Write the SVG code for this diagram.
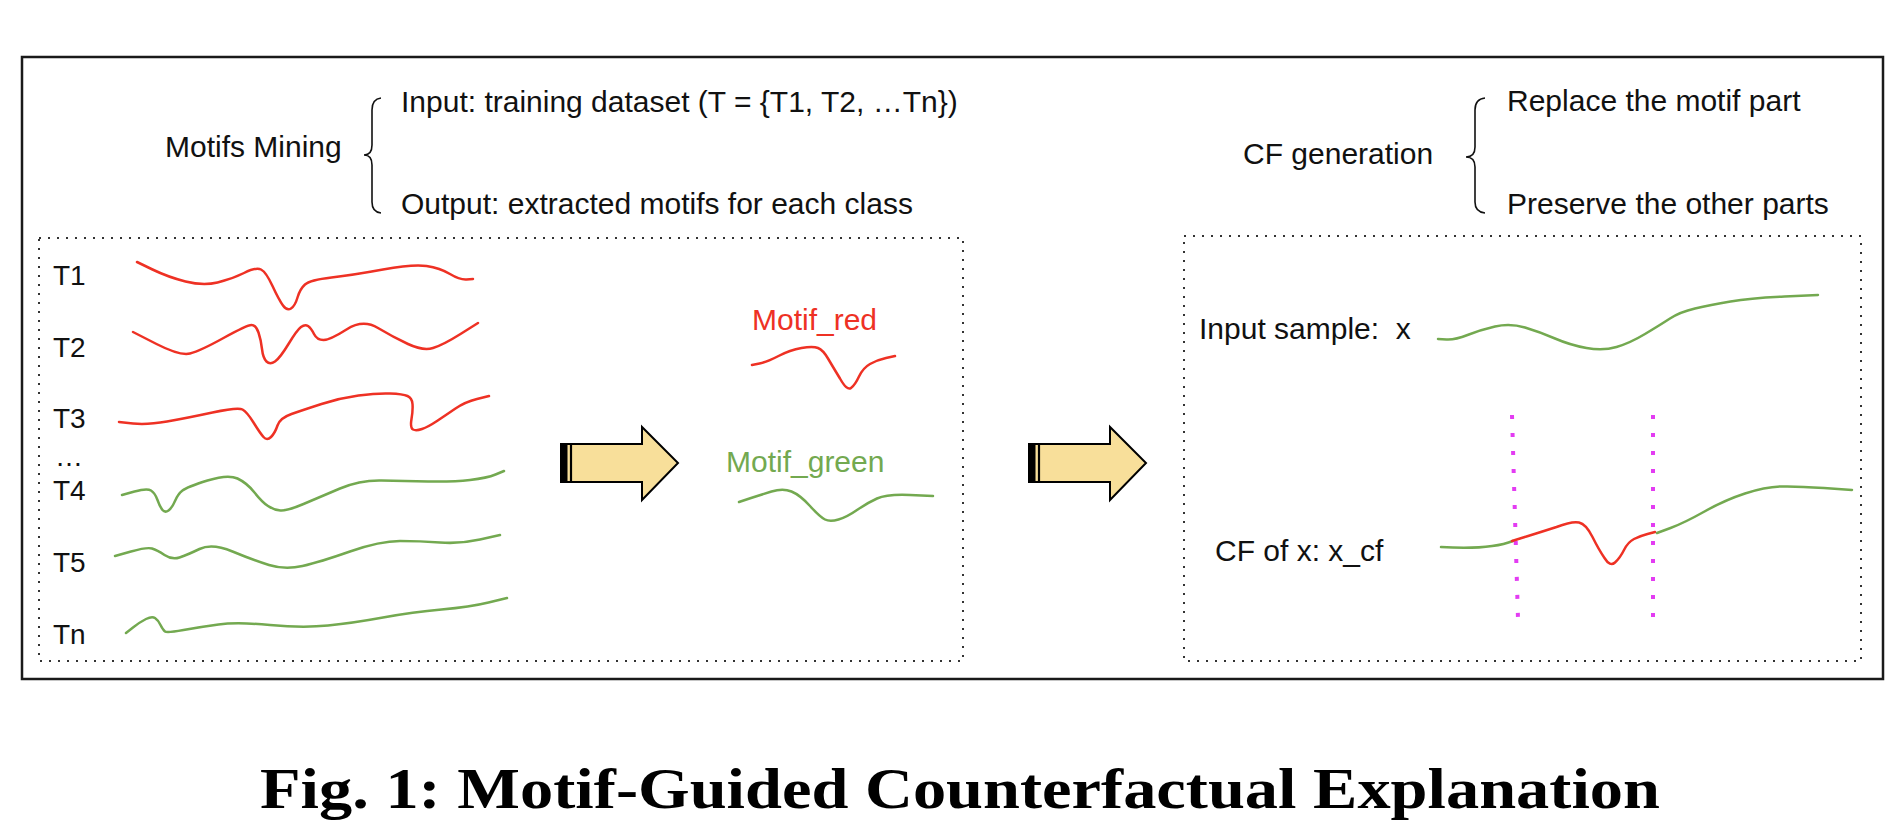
<svg xmlns="http://www.w3.org/2000/svg" width="1904" height="836" viewBox="0 0 1904 836">
<style>
.t{font-family:"Liberation Sans",Arial,sans-serif;font-size:30px;fill:#111}
.lbl{font-family:"Liberation Sans",Arial,sans-serif;font-size:28px;fill:#111}
.dot{fill:none;stroke:#333;stroke-width:2;stroke-dasharray:2 7}
.red{fill:none;stroke:#ee3124;stroke-width:2.5;stroke-linecap:round;stroke-linejoin:round}
.grn{fill:none;stroke:#73a950;stroke-width:2.5;stroke-linecap:round;stroke-linejoin:round}
.brace{fill:none;stroke:#111;stroke-width:1.6}
.mag{stroke:#e33cf2;stroke-width:4;stroke-dasharray:4 14}
.cap{font-family:"Liberation Serif","Times New Roman",serif;font-weight:bold;font-size:58px;fill:#000}
</style>
<defs>
<g id="arrowShape">
<polygon points="561,444 642,444 642,427 678,463 642,500 642,482 561,482" fill="#f8df9a" stroke="#000" stroke-width="2" stroke-linejoin="miter"/>
<rect x="560" y="443" width="7.5" height="40" fill="#000"/>
<line x1="571" y1="444" x2="571" y2="482" stroke="#000" stroke-width="2.2"/>
</g>
</defs>
<rect width="1904" height="836" fill="#fff"/>
<rect id="frame" x="22" y="57" width="1861" height="622" fill="none" stroke="#1a1a1a" stroke-width="2.5"/>

<g id="motifs-mining">
<text class="t" x="165" y="157">Motifs Mining</text>
<path class="brace" d="M381 98 Q372 99 372 110 L372 145 Q372 155 364 155 Q372 155 372 165 L372 202 Q372 212 381 213"/>
<text class="t" x="401" y="112">Input: training dataset (T = {T1, T2, …Tn})</text>
<text class="t" x="401" y="214">Output: extracted motifs for each class</text>
</g>

<g id="cf-generation">
<text class="t" x="1243" y="164">CF generation</text>
<path class="brace" d="M1485 98 Q1475 99 1475 110 L1475 147 Q1475 157 1466 157 Q1475 157 1475 167 L1475 202 Q1475 212 1485 213"/>
<text class="t" x="1507" y="111">Replace the motif part</text>
<text class="t" x="1507" y="214">Preserve the other parts</text>
</g>

<g id="dataset">
<rect class="dot" x="39" y="238" width="924" height="423"/>
<text class="lbl" x="53" y="285">T1</text>
<text class="lbl" x="53" y="357">T2</text>
<text class="lbl" x="53" y="428">T3</text>
<text class="lbl" x="55" y="466">…</text>
<text class="lbl" x="53" y="500">T4</text>
<text class="lbl" x="53" y="572">T5</text>
<text class="lbl" x="53" y="644">Tn</text>
<path class="red" d="M137,262 L152.5,269.5 Q168,277 185.5,281.5 Q203,286 217.5,282.5 Q232,279 244,273 Q256,267 261,269.5 Q266,272 272.5,286 Q279,300 283,305.5 Q287,311 291,308.5 Q295,306 297.5,297.5 Q300,289 305,284.5 Q310,280 331.5,277.5 Q353,275 383,269.5 Q413,264 426.5,266 Q440,268 450,274 Q460,280 466.5,279.5 L473,279"/>
<path class="red" d="M133,332 L156.5,344 Q180,356 190,353.5 Q200,351 223.5,338 Q247,325 251.5,325 Q256,325 258.5,332.5 Q261,340 262,349 Q263,358 266.5,361.5 Q270,365 275,361.5 Q280,358 288.5,344 Q297,330 301,327 Q305,324 308,326 Q311,328 314,334 Q317,340 323.5,340 Q330,340 346.5,329.5 Q363,319 378,328 Q393,337 408,344 Q423,351 433,348 Q443,345 460.5,334 L478,323"/>
<path class="red" d="M119,422 L133,423.5 Q147,425 167,421.5 Q187,418 212.5,412.5 Q238,407 242.5,409.5 Q247,412 253.5,422.5 Q260,433 263.5,437 Q267,441 271,437 Q275,433 277.5,425.5 Q280,418 291.5,414 Q303,410 321.5,404 Q340,398 358.5,395.5 Q377,393 390,393.5 Q403,394 407.5,396 Q412,398 412.5,404 Q413,410 411.5,419 Q410,428 413,429.5 Q416,431 422,429 Q428,427 437,421 Q446,415 455.5,408.5 Q465,402 477,399 L489,396"/>
<path class="grn" d="M122,495 L134.5,491.5 Q147,488 151,490.5 Q155,493 157.5,500 Q160,507 162.5,510 Q165,513 168.5,510.5 Q172,508 175,501 Q178,494 182.5,490.5 Q187,487 207.5,480.5 Q228,474 237.5,478.5 Q247,483 254.5,492.5 Q262,502 268,506 Q274,510 280.5,510.5 Q287,511 303.5,504 Q320,497 340,488.5 Q360,480 381.5,480.5 Q403,481 428,481.5 Q453,482 470,480 Q487,478 495.5,474.5 L504,471"/>
<path class="grn" d="M115,556 L131,551.5 Q147,547 152,548.5 Q157,550 164.5,555 Q172,560 179.5,557.5 Q187,555 199.5,549 Q212,543 232.5,551.5 Q253,560 269,565 Q285,570 302.5,566 Q320,562 350,551.5 Q380,541 400,541 Q420,541 440,542.5 Q460,544 480,539.5 L500,535"/>
<path class="grn" d="M126,633 L133,627.5 Q140,622 146,619 Q152,616 155,618 Q158,620 160.5,625 Q163,630 165,631.5 Q167,633 183.5,630 Q200,627 218.5,624.5 Q237,622 270,625 Q303,628 328,625.5 Q353,623 383,617.5 Q413,612 441.5,609.5 Q470,607 488.5,602.5 L507,598"/>
</g>

<g id="arrow1">
<use href="#arrowShape"/>
</g>

<g id="motifs">
<text class="t" x="752" y="330" style="fill:#ee3124">Motif_red</text>
<path class="red" d="M752,365 L759.5,363.5 Q767,362 778.5,356 Q790,350 801.5,348 Q813,346 818,348 Q823,350 828,358.5 Q833,367 840,378.5 Q847,391 851,388 Q855,385 859,376.5 Q863,368 870,364 Q877,360 886,358 L895,356"/>
<text class="t" x="726" y="472" style="fill:#73a950">Motif_green</text>
<path class="grn" d="M739,502 L749.5,498.5 Q760,495 771.5,491.5 Q783,488 791.5,491.5 Q800,495 810,506 Q820,517 825,519.5 Q830,522 838.5,519.5 Q847,517 857,510 Q867,503 877,498.5 Q887,494 910,495 L933,496"/>
</g>

<g id="arrow2">
<use href="#arrowShape" transform="translate(468,0)"/>
</g>

<g id="counterfactual">
<rect class="dot" x="1184" y="236" width="677" height="425"/>
<text class="t" x="1199" y="339" xml:space="preserve">Input sample:  x</text>
<path class="grn" d="M1438,339 L1446.5,339.5 Q1455,340 1467.5,335 Q1480,330 1495,326.5 Q1510,323 1525,327.5 Q1540,332 1555,338.5 Q1570,345 1586.5,348 Q1603,351 1616.5,347 Q1630,343 1645,334 Q1660,325 1670,318.5 Q1680,312 1695,308.5 Q1710,305 1730.5,301.5 Q1751,298 1784.5,296.5 L1818,295"/>
<text class="t" x="1215" y="561">CF of x: x_cf</text>
<line class="mag" x1="1512" y1="415" x2="1518" y2="619"/>
<line class="mag" x1="1653" y1="415" x2="1653" y2="619"/>
<path class="grn" d="M1441,547 Q1490,550 1513,541"/>
<path class="red" d="M1512,541 L1526.5,536.5 Q1541,532 1556.5,527 Q1572,521 1579,522.5 Q1586,524 1592.5,537 Q1599,550 1604.5,558 Q1610,567 1615,562.5 Q1620,558 1624,550 Q1628,542 1634,539 Q1640,536 1647.5,534 L1655,532"/>
<path class="grn" d="M1657,533 L1670.5,528 Q1684,523 1704.5,511.5 Q1725,500 1745,493.5 Q1765,487 1780.5,486.5 Q1796,486 1824,488 L1852,490"/>
</g>

<g id="caption">
<text class="cap" x="960" y="808" text-anchor="middle" textLength="1400" lengthAdjust="spacingAndGlyphs">Fig. 1: Motif-Guided Counterfactual Explanation</text>
</g>
</svg>
